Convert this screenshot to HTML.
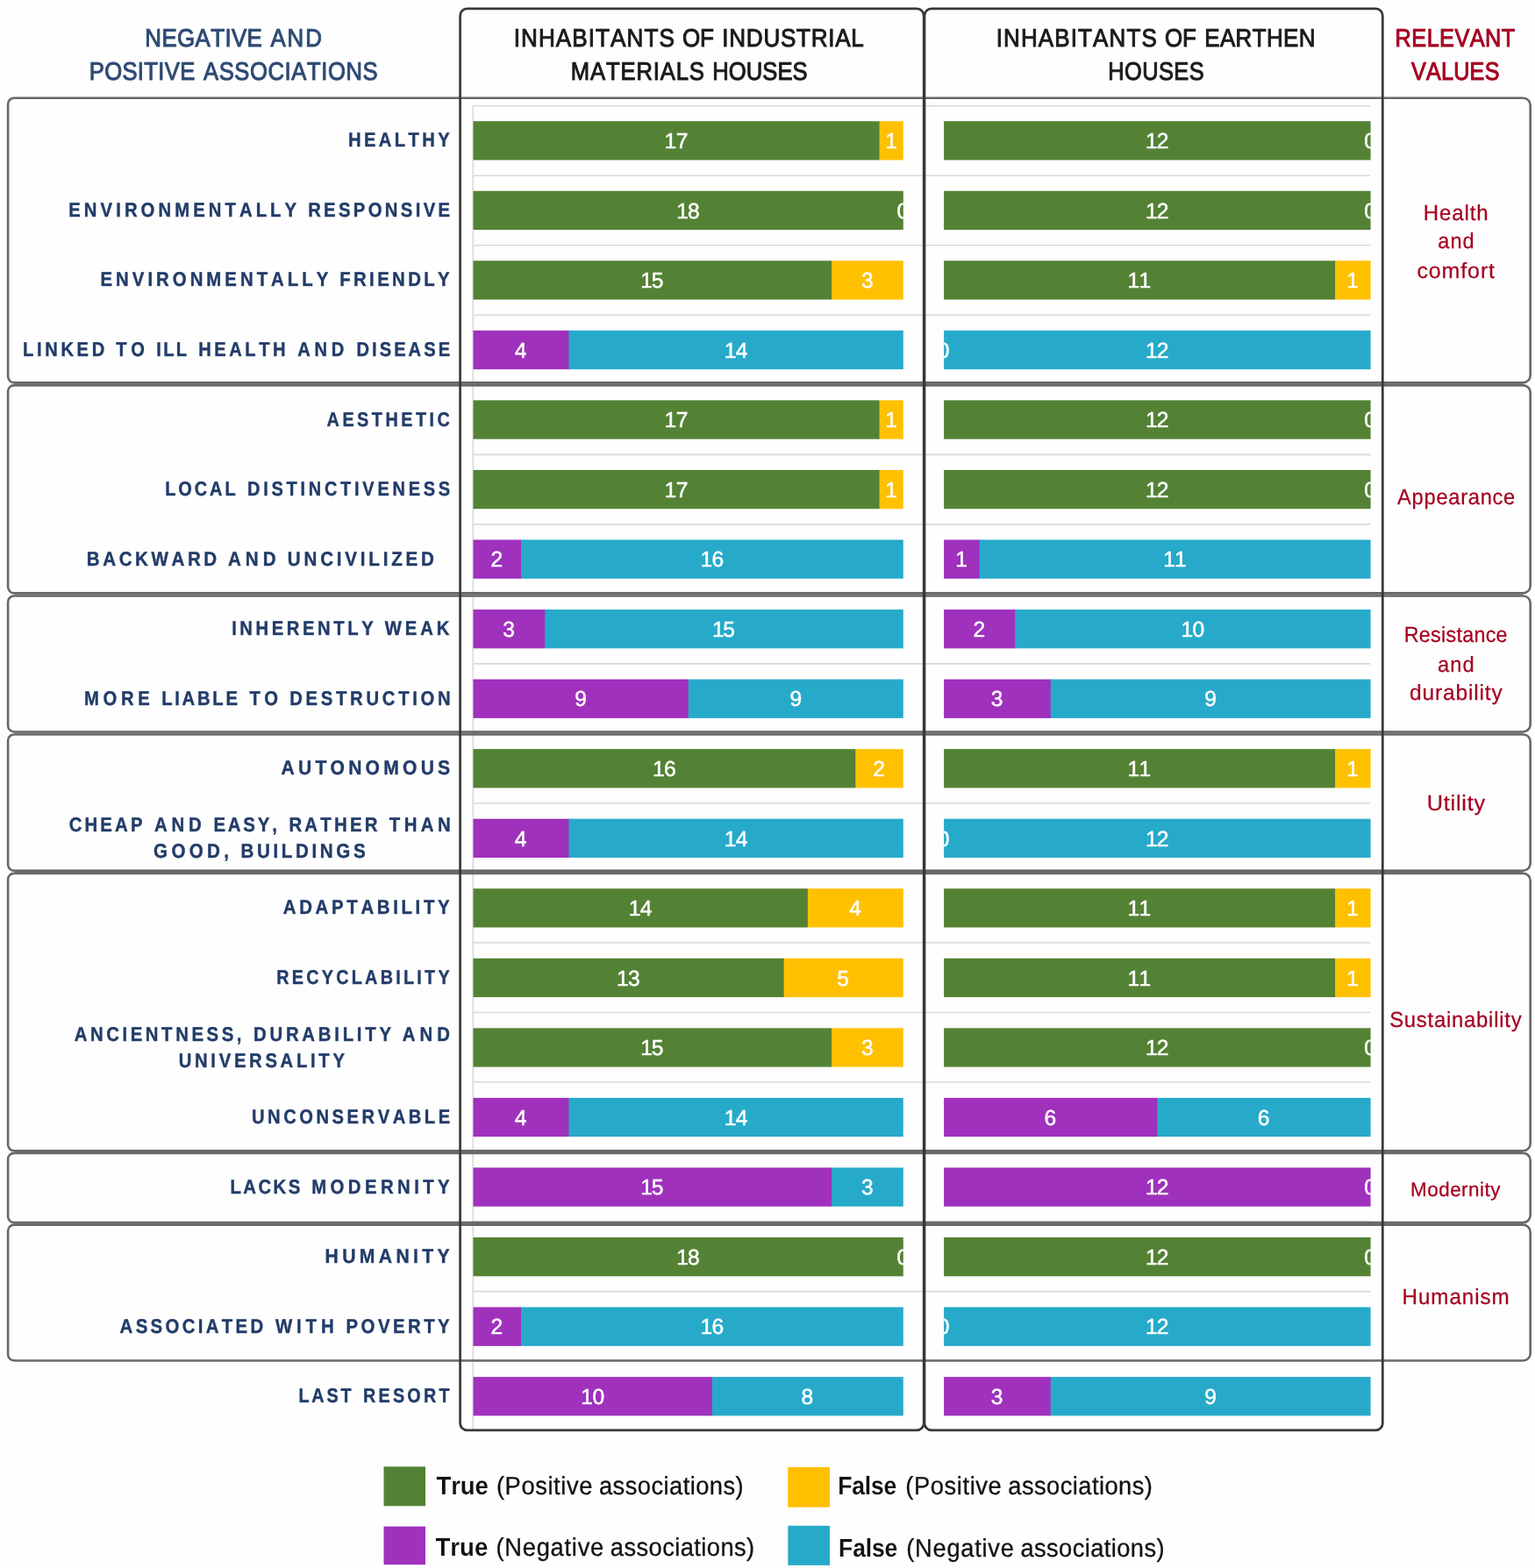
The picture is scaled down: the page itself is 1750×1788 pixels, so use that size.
<!DOCTYPE html>
<html lang="en"><head><meta charset="utf-8"><title>Negative and positive associations</title>
<style>html,body{margin:0;padding:0;background:#fff}body{width:1750px;height:1788px;overflow:hidden}svg{display:block;font-family:"Liberation Sans",sans-serif}text{white-space:pre;font-kerning:none;font-variant-ligatures:none;text-rendering:geometricPrecision}</style></head><body>
<svg width="1750" height="1788" viewBox="0 0 1750 1788">
<rect width="1750" height="1788" fill="#fefefe"/>
<defs><clipPath id="ci"><rect x="539.5" y="100" width="490.3" height="1540"/></clipPath><clipPath id="ce"><rect x="1076.1" y="100" width="486.5" height="1540"/></clipPath></defs>
<g stroke="#D9D9D9" stroke-width="1.6" fill="none">
<path d="M539 120.75H1562.5"/>
<path d="M539 200.27H1562.5"/>
<path d="M539 279.79H1562.5"/>
<path d="M539 359.31H1562.5"/>
<path d="M539 438.83H1562.5"/>
<path d="M539 518.35H1562.5"/>
<path d="M539 597.87H1562.5"/>
<path d="M539 677.39H1562.5"/>
<path d="M539 756.91H1562.5"/>
<path d="M539 836.43H1562.5"/>
<path d="M539 915.95H1562.5"/>
<path d="M539 995.47H1562.5"/>
<path d="M539 1074.99H1562.5"/>
<path d="M539 1154.51H1562.5"/>
<path d="M539 1234.03H1562.5"/>
<path d="M539 1313.55H1562.5"/>
<path d="M539 1393.07H1562.5"/>
<path d="M539 1472.59H1562.5"/>
<path d="M539 1552.11H1562.5"/>
<path d="M539.3 120V1630"/>
</g>
<g stroke="#686868" stroke-width="2.6" fill="none">
<path d="M16.1 111.7H1736.4A8.3 8.3 0 0 1 1744.7 120V428.05A8.3 8.3 0 0 1 1736.4 436.35H16.1A7 7 0 0 1 9.1 429.35V118.7A7 7 0 0 1 16.1 111.7Z"/>
<path d="M16.1 439.35H1736.4A8.3 8.3 0 0 1 1744.7 447.65V668.05A8.3 8.3 0 0 1 1736.4 676.35H16.1A7 7 0 0 1 9.1 669.35V446.35A7 7 0 0 1 16.1 439.35Z"/>
<path d="M16.1 679.45H1736.4A8.3 8.3 0 0 1 1744.7 687.75V826.15A8.3 8.3 0 0 1 1736.4 834.45H16.1A7 7 0 0 1 9.1 827.45V686.45A7 7 0 0 1 16.1 679.45Z"/>
<path d="M16.1 837.45H1736.4A8.3 8.3 0 0 1 1744.7 845.75V984.55A8.3 8.3 0 0 1 1736.4 992.85H16.1A7 7 0 0 1 9.1 985.85V844.45A7 7 0 0 1 16.1 837.45Z"/>
<path d="M16.1 995.85H1736.4A8.3 8.3 0 0 1 1744.7 1004.15V1304A8.3 8.3 0 0 1 1736.4 1312.3H16.1A7 7 0 0 1 9.1 1305.3V1002.85A7 7 0 0 1 16.1 995.85Z"/>
<path d="M16.1 1314.85H1736.4A8.3 8.3 0 0 1 1744.7 1323.15V1385.85A8.3 8.3 0 0 1 1736.4 1394.15H16.1A7 7 0 0 1 9.1 1387.15V1321.85A7 7 0 0 1 16.1 1314.85Z"/>
<path d="M16.1 1396.65H1736.4A8.3 8.3 0 0 1 1744.7 1404.95V1543.2A8.3 8.3 0 0 1 1736.4 1551.5H16.1A7 7 0 0 1 9.1 1544.5V1403.65A7 7 0 0 1 16.1 1396.65Z"/>
<path d="M17 437.85H1736" stroke="#6C6C6C" stroke-width="1.2"/>
<path d="M17 677.9H1736" stroke="#6C6C6C" stroke-width="1.2"/>
<path d="M17 835.95H1736" stroke="#6C6C6C" stroke-width="1.2"/>
<path d="M17 994.35H1736" stroke="#6C6C6C" stroke-width="1.2"/>
<path d="M17 1313.58H1736" stroke="#6C6C6C" stroke-width="1.2"/>
<path d="M17 1395.4H1736" stroke="#6C6C6C" stroke-width="1.2"/>
</g>
<g>
<rect x="1001.76" y="138.2" width="28.04" height="44.3" fill="#FFC000"/>
<rect x="539.5" y="138.2" width="463.06" height="44.3" fill="#548235"/>
<rect x="1076.1" y="138.2" width="486.5" height="44.3" fill="#548235"/>
<rect x="539.5" y="217.75" width="490.3" height="44.3" fill="#548235"/>
<rect x="1076.1" y="217.75" width="486.5" height="44.3" fill="#548235"/>
<rect x="947.28" y="297.3" width="82.52" height="44.3" fill="#FFC000"/>
<rect x="539.5" y="297.3" width="408.58" height="44.3" fill="#548235"/>
<rect x="1521.26" y="297.3" width="41.34" height="44.3" fill="#FFC000"/>
<rect x="1076.1" y="297.3" width="445.96" height="44.3" fill="#548235"/>
<rect x="647.66" y="376.85" width="382.14" height="44.3" fill="#27AACA"/>
<rect x="539.5" y="376.85" width="108.96" height="44.3" fill="#9F31BC"/>
<rect x="1076.1" y="376.85" width="486.5" height="44.3" fill="#27AACA"/>
<rect x="1001.76" y="456.4" width="28.04" height="44.3" fill="#FFC000"/>
<rect x="539.5" y="456.4" width="463.06" height="44.3" fill="#548235"/>
<rect x="1076.1" y="456.4" width="486.5" height="44.3" fill="#548235"/>
<rect x="1001.76" y="535.95" width="28.04" height="44.3" fill="#FFC000"/>
<rect x="539.5" y="535.95" width="463.06" height="44.3" fill="#548235"/>
<rect x="1076.1" y="535.95" width="486.5" height="44.3" fill="#548235"/>
<rect x="593.18" y="615.5" width="436.62" height="44.3" fill="#27AACA"/>
<rect x="539.5" y="615.5" width="54.48" height="44.3" fill="#9F31BC"/>
<rect x="1115.84" y="615.5" width="446.76" height="44.3" fill="#27AACA"/>
<rect x="1076.1" y="615.5" width="40.54" height="44.3" fill="#9F31BC"/>
<rect x="620.42" y="695.05" width="409.38" height="44.3" fill="#27AACA"/>
<rect x="539.5" y="695.05" width="81.72" height="44.3" fill="#9F31BC"/>
<rect x="1156.38" y="695.05" width="406.22" height="44.3" fill="#27AACA"/>
<rect x="1076.1" y="695.05" width="81.08" height="44.3" fill="#9F31BC"/>
<rect x="783.85" y="774.6" width="245.95" height="44.3" fill="#27AACA"/>
<rect x="539.5" y="774.6" width="245.15" height="44.3" fill="#9F31BC"/>
<rect x="1196.92" y="774.6" width="365.68" height="44.3" fill="#27AACA"/>
<rect x="1076.1" y="774.6" width="121.62" height="44.3" fill="#9F31BC"/>
<rect x="974.52" y="854.15" width="55.28" height="44.3" fill="#FFC000"/>
<rect x="539.5" y="854.15" width="435.82" height="44.3" fill="#548235"/>
<rect x="1521.26" y="854.15" width="41.34" height="44.3" fill="#FFC000"/>
<rect x="1076.1" y="854.15" width="445.96" height="44.3" fill="#548235"/>
<rect x="647.66" y="933.7" width="382.14" height="44.3" fill="#27AACA"/>
<rect x="539.5" y="933.7" width="108.96" height="44.3" fill="#9F31BC"/>
<rect x="1076.1" y="933.7" width="486.5" height="44.3" fill="#27AACA"/>
<rect x="920.04" y="1013.25" width="109.76" height="44.3" fill="#FFC000"/>
<rect x="539.5" y="1013.25" width="381.34" height="44.3" fill="#548235"/>
<rect x="1521.26" y="1013.25" width="41.34" height="44.3" fill="#FFC000"/>
<rect x="1076.1" y="1013.25" width="445.96" height="44.3" fill="#548235"/>
<rect x="892.81" y="1092.8" width="136.99" height="44.3" fill="#FFC000"/>
<rect x="539.5" y="1092.8" width="354.11" height="44.3" fill="#548235"/>
<rect x="1521.26" y="1092.8" width="41.34" height="44.3" fill="#FFC000"/>
<rect x="1076.1" y="1092.8" width="445.96" height="44.3" fill="#548235"/>
<rect x="947.28" y="1172.35" width="82.52" height="44.3" fill="#FFC000"/>
<rect x="539.5" y="1172.35" width="408.58" height="44.3" fill="#548235"/>
<rect x="1076.1" y="1172.35" width="486.5" height="44.3" fill="#548235"/>
<rect x="647.66" y="1251.9" width="382.14" height="44.3" fill="#27AACA"/>
<rect x="539.5" y="1251.9" width="108.96" height="44.3" fill="#9F31BC"/>
<rect x="1318.55" y="1251.9" width="244.05" height="44.3" fill="#27AACA"/>
<rect x="1076.1" y="1251.9" width="243.25" height="44.3" fill="#9F31BC"/>
<rect x="947.28" y="1331.45" width="82.52" height="44.3" fill="#27AACA"/>
<rect x="539.5" y="1331.45" width="408.58" height="44.3" fill="#9F31BC"/>
<rect x="1076.1" y="1331.45" width="486.5" height="44.3" fill="#9F31BC"/>
<rect x="539.5" y="1411" width="490.3" height="44.3" fill="#548235"/>
<rect x="1076.1" y="1411" width="486.5" height="44.3" fill="#548235"/>
<rect x="593.18" y="1490.55" width="436.62" height="44.3" fill="#27AACA"/>
<rect x="539.5" y="1490.55" width="54.48" height="44.3" fill="#9F31BC"/>
<rect x="1076.1" y="1490.55" width="486.5" height="44.3" fill="#27AACA"/>
<rect x="811.09" y="1570.1" width="218.71" height="44.3" fill="#27AACA"/>
<rect x="539.5" y="1570.1" width="272.39" height="44.3" fill="#9F31BC"/>
<rect x="1196.92" y="1570.1" width="365.68" height="44.3" fill="#27AACA"/>
<rect x="1076.1" y="1570.1" width="121.62" height="44.3" fill="#9F31BC"/>
</g>
<g stroke="#383838" stroke-width="2.7" fill="none">
<rect x="524.6" y="9.9" width="528.6" height="1620.9" rx="7.8" ry="7.8"/>
<rect x="1054.0" y="9.9" width="522.3" height="1620.9" rx="7.8" ry="7.8"/>
</g>
<g clip-path="url(#ci)">
<text transform="translate(757.57,169) scale(1.0000,1)" font-size="24.64" letter-spacing="-0.446" fill="#fff" stroke="#fff" stroke-width="0.5">17</text>
<text transform="translate(1009.16,169) scale(1.0000,1)" font-size="24.64" fill="#fff" stroke="#fff" stroke-width="0.5">1</text>
</g>
<g clip-path="url(#ce)">
<text transform="translate(1305.89,169) scale(1.0000,1)" font-size="24.64" letter-spacing="-0.725" fill="#fff" stroke="#fff" stroke-width="0.5">12</text>
<text transform="translate(1555.35,169) scale(1.0000,1)" font-size="24.64" fill="#fff" stroke="#fff" stroke-width="0.5">0</text>
</g>
<g clip-path="url(#ci)">
<text transform="translate(771.19,248.55) scale(1.0000,1)" font-size="24.64" letter-spacing="-0.827" fill="#fff" stroke="#fff" stroke-width="0.5">18</text>
<text transform="translate(1022.55,248.55) scale(1.0000,1)" font-size="24.64" fill="#fff" stroke="#fff" stroke-width="0.5">0</text>
</g>
<g clip-path="url(#ce)">
<text transform="translate(1305.89,248.55) scale(1.0000,1)" font-size="24.64" letter-spacing="-0.725" fill="#fff" stroke="#fff" stroke-width="0.5">12</text>
<text transform="translate(1555.35,248.55) scale(1.0000,1)" font-size="24.64" fill="#fff" stroke="#fff" stroke-width="0.5">0</text>
</g>
<g clip-path="url(#ci)">
<text transform="translate(730.33,328.1) scale(1.0000,1)" font-size="24.64" letter-spacing="-1.381" fill="#fff" stroke="#fff" stroke-width="0.5">15</text>
<text transform="translate(981.88,328.1) scale(1.0000,1)" font-size="24.64" fill="#fff" stroke="#fff" stroke-width="0.5">3</text>
</g>
<g clip-path="url(#ce)">
<text transform="translate(1285.62,328.1) scale(1.0000,1)" font-size="24.64" letter-spacing="-0.827" fill="#fff" stroke="#fff" stroke-width="0.5">11</text>
<text transform="translate(1535.31,328.1) scale(1.0000,1)" font-size="24.64" fill="#fff" stroke="#fff" stroke-width="0.5">1</text>
</g>
<g clip-path="url(#ci)">
<text transform="translate(586.81,407.65) scale(1.0000,1)" font-size="24.64" fill="#fff" stroke="#fff" stroke-width="0.5">4</text>
<text transform="translate(825.67,407.65) scale(1.0000,1)" font-size="24.64" letter-spacing="-0.538" fill="#fff" stroke="#fff" stroke-width="0.5">14</text>
</g>
<g clip-path="url(#ce)">
<text transform="translate(1068.85,407.65) scale(1.0000,1)" font-size="24.64" fill="#fff" stroke="#fff" stroke-width="0.5">0</text>
<text transform="translate(1305.89,407.65) scale(1.0000,1)" font-size="24.64" letter-spacing="-0.725" fill="#fff" stroke="#fff" stroke-width="0.5">12</text>
</g>
<g clip-path="url(#ci)">
<text transform="translate(757.57,487.2) scale(1.0000,1)" font-size="24.64" letter-spacing="-0.446" fill="#fff" stroke="#fff" stroke-width="0.5">17</text>
<text transform="translate(1009.16,487.2) scale(1.0000,1)" font-size="24.64" fill="#fff" stroke="#fff" stroke-width="0.5">1</text>
</g>
<g clip-path="url(#ce)">
<text transform="translate(1305.89,487.2) scale(1.0000,1)" font-size="24.64" letter-spacing="-0.725" fill="#fff" stroke="#fff" stroke-width="0.5">12</text>
<text transform="translate(1555.35,487.2) scale(1.0000,1)" font-size="24.64" fill="#fff" stroke="#fff" stroke-width="0.5">0</text>
</g>
<g clip-path="url(#ci)">
<text transform="translate(757.57,566.75) scale(1.0000,1)" font-size="24.64" letter-spacing="-0.446" fill="#fff" stroke="#fff" stroke-width="0.5">17</text>
<text transform="translate(1009.16,566.75) scale(1.0000,1)" font-size="24.64" fill="#fff" stroke="#fff" stroke-width="0.5">1</text>
</g>
<g clip-path="url(#ce)">
<text transform="translate(1305.89,566.75) scale(1.0000,1)" font-size="24.64" letter-spacing="-0.725" fill="#fff" stroke="#fff" stroke-width="0.5">12</text>
<text transform="translate(1555.35,566.75) scale(1.0000,1)" font-size="24.64" fill="#fff" stroke="#fff" stroke-width="0.5">0</text>
</g>
<g clip-path="url(#ci)">
<text transform="translate(559.52,646.3) scale(1.0000,1)" font-size="24.64" fill="#fff" stroke="#fff" stroke-width="0.5">2</text>
<text transform="translate(798.43,646.3) scale(1.0000,1)" font-size="24.64" letter-spacing="-0.669" fill="#fff" stroke="#fff" stroke-width="0.5">16</text>
</g>
<g clip-path="url(#ce)">
<text transform="translate(1089.35,646.3) scale(1.0000,1)" font-size="24.64" fill="#fff" stroke="#fff" stroke-width="0.5">1</text>
<text transform="translate(1326.16,646.3) scale(1.0000,1)" font-size="24.64" letter-spacing="-0.827" fill="#fff" stroke="#fff" stroke-width="0.5">11</text>
</g>
<g clip-path="url(#ci)">
<text transform="translate(573.29,725.85) scale(1.0000,1)" font-size="24.64" fill="#fff" stroke="#fff" stroke-width="0.5">3</text>
<text transform="translate(812.05,725.85) scale(1.0000,1)" font-size="24.64" letter-spacing="-1.381" fill="#fff" stroke="#fff" stroke-width="0.5">15</text>
</g>
<g clip-path="url(#ce)">
<text transform="translate(1109.42,725.85) scale(1.0000,1)" font-size="24.64" fill="#fff" stroke="#fff" stroke-width="0.5">2</text>
<text transform="translate(1346.43,725.85) scale(1.0000,1)" font-size="24.64" letter-spacing="-0.550" fill="#fff" stroke="#fff" stroke-width="0.5">10</text>
</g>
<g clip-path="url(#ci)">
<text transform="translate(655.23,805.4) scale(1.0000,1)" font-size="24.64" fill="#fff" stroke="#fff" stroke-width="0.5">9</text>
<text transform="translate(900.38,805.4) scale(1.0000,1)" font-size="24.64" fill="#fff" stroke="#fff" stroke-width="0.5">9</text>
</g>
<g clip-path="url(#ce)">
<text transform="translate(1129.85,805.4) scale(1.0000,1)" font-size="24.64" fill="#fff" stroke="#fff" stroke-width="0.5">3</text>
<text transform="translate(1373.32,805.4) scale(1.0000,1)" font-size="24.64" fill="#fff" stroke="#fff" stroke-width="0.5">9</text>
</g>
<g clip-path="url(#ci)">
<text transform="translate(743.95,884.95) scale(1.0000,1)" font-size="24.64" letter-spacing="-0.669" fill="#fff" stroke="#fff" stroke-width="0.5">16</text>
<text transform="translate(995.34,884.95) scale(1.0000,1)" font-size="24.64" fill="#fff" stroke="#fff" stroke-width="0.5">2</text>
</g>
<g clip-path="url(#ce)">
<text transform="translate(1285.62,884.95) scale(1.0000,1)" font-size="24.64" letter-spacing="-0.827" fill="#fff" stroke="#fff" stroke-width="0.5">11</text>
<text transform="translate(1535.31,884.95) scale(1.0000,1)" font-size="24.64" fill="#fff" stroke="#fff" stroke-width="0.5">1</text>
</g>
<g clip-path="url(#ci)">
<text transform="translate(586.81,964.5) scale(1.0000,1)" font-size="24.64" fill="#fff" stroke="#fff" stroke-width="0.5">4</text>
<text transform="translate(825.67,964.5) scale(1.0000,1)" font-size="24.64" letter-spacing="-0.538" fill="#fff" stroke="#fff" stroke-width="0.5">14</text>
</g>
<g clip-path="url(#ce)">
<text transform="translate(1068.85,964.5) scale(1.0000,1)" font-size="24.64" fill="#fff" stroke="#fff" stroke-width="0.5">0</text>
<text transform="translate(1305.89,964.5) scale(1.0000,1)" font-size="24.64" letter-spacing="-0.725" fill="#fff" stroke="#fff" stroke-width="0.5">12</text>
</g>
<g clip-path="url(#ci)">
<text transform="translate(716.71,1044.05) scale(1.0000,1)" font-size="24.64" letter-spacing="-0.538" fill="#fff" stroke="#fff" stroke-width="0.5">14</text>
<text transform="translate(968.16,1044.05) scale(1.0000,1)" font-size="24.64" fill="#fff" stroke="#fff" stroke-width="0.5">4</text>
</g>
<g clip-path="url(#ce)">
<text transform="translate(1285.62,1044.05) scale(1.0000,1)" font-size="24.64" letter-spacing="-0.827" fill="#fff" stroke="#fff" stroke-width="0.5">11</text>
<text transform="translate(1535.31,1044.05) scale(1.0000,1)" font-size="24.64" fill="#fff" stroke="#fff" stroke-width="0.5">1</text>
</g>
<g clip-path="url(#ci)">
<text transform="translate(703.09,1123.6) scale(1.0000,1)" font-size="24.64" letter-spacing="-0.762" fill="#fff" stroke="#fff" stroke-width="0.5">13</text>
<text transform="translate(954.29,1123.6) scale(1.0000,1)" font-size="24.64" fill="#fff" stroke="#fff" stroke-width="0.5">5</text>
</g>
<g clip-path="url(#ce)">
<text transform="translate(1285.62,1123.6) scale(1.0000,1)" font-size="24.64" letter-spacing="-0.827" fill="#fff" stroke="#fff" stroke-width="0.5">11</text>
<text transform="translate(1535.31,1123.6) scale(1.0000,1)" font-size="24.64" fill="#fff" stroke="#fff" stroke-width="0.5">1</text>
</g>
<g clip-path="url(#ci)">
<text transform="translate(730.33,1203.15) scale(1.0000,1)" font-size="24.64" letter-spacing="-1.381" fill="#fff" stroke="#fff" stroke-width="0.5">15</text>
<text transform="translate(981.88,1203.15) scale(1.0000,1)" font-size="24.64" fill="#fff" stroke="#fff" stroke-width="0.5">3</text>
</g>
<g clip-path="url(#ce)">
<text transform="translate(1305.89,1203.15) scale(1.0000,1)" font-size="24.64" letter-spacing="-0.725" fill="#fff" stroke="#fff" stroke-width="0.5">12</text>
<text transform="translate(1555.35,1203.15) scale(1.0000,1)" font-size="24.64" fill="#fff" stroke="#fff" stroke-width="0.5">0</text>
</g>
<g clip-path="url(#ci)">
<text transform="translate(586.81,1282.7) scale(1.0000,1)" font-size="24.64" fill="#fff" stroke="#fff" stroke-width="0.5">4</text>
<text transform="translate(825.67,1282.7) scale(1.0000,1)" font-size="24.64" letter-spacing="-0.538" fill="#fff" stroke="#fff" stroke-width="0.5">14</text>
</g>
<g clip-path="url(#ce)">
<text transform="translate(1190.53,1282.7) scale(1.0000,1)" font-size="24.64" fill="#fff" stroke="#fff" stroke-width="0.5">6</text>
<text transform="translate(1433.78,1282.7) scale(1.0000,1)" font-size="24.64" fill="#fff" stroke="#fff" stroke-width="0.5">6</text>
</g>
<g clip-path="url(#ci)">
<text transform="translate(730.33,1362.25) scale(1.0000,1)" font-size="24.64" letter-spacing="-1.381" fill="#fff" stroke="#fff" stroke-width="0.5">15</text>
<text transform="translate(981.88,1362.25) scale(1.0000,1)" font-size="24.64" fill="#fff" stroke="#fff" stroke-width="0.5">3</text>
</g>
<g clip-path="url(#ce)">
<text transform="translate(1305.89,1362.25) scale(1.0000,1)" font-size="24.64" letter-spacing="-0.725" fill="#fff" stroke="#fff" stroke-width="0.5">12</text>
<text transform="translate(1555.35,1362.25) scale(1.0000,1)" font-size="24.64" fill="#fff" stroke="#fff" stroke-width="0.5">0</text>
</g>
<g clip-path="url(#ci)">
<text transform="translate(771.19,1441.8) scale(1.0000,1)" font-size="24.64" letter-spacing="-0.827" fill="#fff" stroke="#fff" stroke-width="0.5">18</text>
<text transform="translate(1022.55,1441.8) scale(1.0000,1)" font-size="24.64" fill="#fff" stroke="#fff" stroke-width="0.5">0</text>
</g>
<g clip-path="url(#ce)">
<text transform="translate(1305.89,1441.8) scale(1.0000,1)" font-size="24.64" letter-spacing="-0.725" fill="#fff" stroke="#fff" stroke-width="0.5">12</text>
<text transform="translate(1555.35,1441.8) scale(1.0000,1)" font-size="24.64" fill="#fff" stroke="#fff" stroke-width="0.5">0</text>
</g>
<g clip-path="url(#ci)">
<text transform="translate(559.52,1521.35) scale(1.0000,1)" font-size="24.64" fill="#fff" stroke="#fff" stroke-width="0.5">2</text>
<text transform="translate(798.43,1521.35) scale(1.0000,1)" font-size="24.64" letter-spacing="-0.669" fill="#fff" stroke="#fff" stroke-width="0.5">16</text>
</g>
<g clip-path="url(#ce)">
<text transform="translate(1068.85,1521.35) scale(1.0000,1)" font-size="24.64" fill="#fff" stroke="#fff" stroke-width="0.5">0</text>
<text transform="translate(1305.89,1521.35) scale(1.0000,1)" font-size="24.64" letter-spacing="-0.725" fill="#fff" stroke="#fff" stroke-width="0.5">12</text>
</g>
<g clip-path="url(#ci)">
<text transform="translate(662.23,1600.9) scale(1.0000,1)" font-size="24.64" letter-spacing="-0.550" fill="#fff" stroke="#fff" stroke-width="0.5">10</text>
<text transform="translate(913.59,1600.9) scale(1.0000,1)" font-size="24.64" fill="#fff" stroke="#fff" stroke-width="0.5">8</text>
</g>
<g clip-path="url(#ce)">
<text transform="translate(1129.85,1600.9) scale(1.0000,1)" font-size="24.64" fill="#fff" stroke="#fff" stroke-width="0.5">3</text>
<text transform="translate(1373.32,1600.9) scale(1.0000,1)" font-size="24.64" fill="#fff" stroke="#fff" stroke-width="0.5">9</text>
</g>
<text transform="translate(396.9,167.35) scale(0.8866,1)" font-size="22.75" font-weight="700" letter-spacing="3.854" fill="#223C69" stroke="#223C69" stroke-width="0.4">HEALTHY</text>
<text transform="translate(0,246.9) scale(0.8923,1)" font-size="22.75" font-weight="700" fill="#223C69" stroke="#223C69" stroke-width="0.4"><tspan x="87.71" letter-spacing="4.552">ENVIRONMENTALLY </tspan><tspan x="393.52" letter-spacing="3.733">RESPONSIVE</tspan></text>
<text transform="translate(0,326.45) scale(0.8952,1)" font-size="22.75" font-weight="700" fill="#223C69" stroke="#223C69" stroke-width="0.4"><tspan x="127.89" letter-spacing="4.483">ENVIRONMENTALLY </tspan><tspan x="432.55" letter-spacing="3.768">FRIENDLY</tspan></text>
<text transform="translate(0,406) scale(0.8836,1)" font-size="22.75" font-weight="700" fill="#223C69" stroke="#223C69" stroke-width="0.4"><tspan x="29.44" letter-spacing="4.148">LINKED </tspan><tspan x="149.79" letter-spacing="5.287">TO </tspan><tspan x="201.8" letter-spacing="2.657">ILL </tspan><tspan x="256.06" letter-spacing="4.011">HEALTH </tspan><tspan x="384.04" letter-spacing="5.373">AND </tspan><tspan x="460" letter-spacing="3.465">DISEASE</tspan></text>
<text transform="translate(372.57,485.55) scale(0.8706,1)" font-size="22.75" font-weight="700" letter-spacing="4.029" fill="#223C69" stroke="#223C69" stroke-width="0.4">AESTHETIC</text>
<text transform="translate(0,565.1) scale(0.8780,1)" font-size="22.75" font-weight="700" fill="#223C69" stroke="#223C69" stroke-width="0.4"><tspan x="214.33" letter-spacing="3.324">LOCAL </tspan><tspan x="321.15" letter-spacing="4.269">DISTINCTIVENESS</tspan></text>
<text transform="translate(0,644.65) scale(0.9041,1)" font-size="22.75" font-weight="700" fill="#223C69" stroke="#223C69" stroke-width="0.4"><tspan x="109.31" letter-spacing="3.943">BACKWARD </tspan><tspan x="287.46" letter-spacing="5.575">AND </tspan><tspan x="362.63" letter-spacing="4.192">UNCIVILIZED</tspan></text>
<text transform="translate(0,724.2) scale(0.8895,1)" font-size="22.75" font-weight="700" fill="#223C69" stroke="#223C69" stroke-width="0.4"><tspan x="296.96" letter-spacing="4.032">INHERENTLY </tspan><tspan x="493.25" letter-spacing="4.463">WEAK</tspan></text>
<text transform="translate(0,803.75) scale(0.8897,1)" font-size="22.75" font-weight="700" fill="#223C69" stroke="#223C69" stroke-width="0.4"><tspan x="107.85" letter-spacing="5.253">MORE </tspan><tspan x="207.01" letter-spacing="3.063">LIABLE </tspan><tspan x="319.67" letter-spacing="5.033">TO </tspan><tspan x="371.18" letter-spacing="4.186">DESTRUCTION</tspan></text>
<text transform="translate(320.52,883.3) scale(0.9266,1)" font-size="22.75" font-weight="700" letter-spacing="4.563" fill="#223C69" stroke="#223C69" stroke-width="0.4">AUTONOMOUS</text>
<text transform="translate(0,947.85) scale(0.8963,1)" font-size="22.75" font-weight="700" fill="#223C69" stroke="#223C69" stroke-width="0.4"><tspan x="87.76" letter-spacing="3.476">CHEAP </tspan><tspan x="196.33" letter-spacing="5.283">AND </tspan><tspan x="271.55" letter-spacing="3.147">EASY, </tspan><tspan x="367.5" letter-spacing="3.612">RATHER </tspan><tspan x="495.17" letter-spacing="4.912">THAN</tspan></text>
<text transform="translate(0,978.05) scale(0.9046,1)" font-size="22.75" font-weight="700" fill="#223C69" stroke="#223C69" stroke-width="0.4"><tspan x="193.55" letter-spacing="4.756">GOOD, </tspan><tspan x="303.32" letter-spacing="4.021">BUILDINGS</tspan></text>
<text transform="translate(322.83,1042.4) scale(0.8970,1)" font-size="22.75" font-weight="700" letter-spacing="4.073" fill="#223C69" stroke="#223C69" stroke-width="0.4">ADAPTABILITY</text>
<text transform="translate(315.13,1121.95) scale(0.8687,1)" font-size="22.75" font-weight="700" letter-spacing="3.781" fill="#223C69" stroke="#223C69" stroke-width="0.4">RECYCLABILITY</text>
<text transform="translate(0,1186.5) scale(0.8950,1)" font-size="22.75" font-weight="700" fill="#223C69" stroke="#223C69" stroke-width="0.4"><tspan x="94.57" letter-spacing="3.991">ANCIENTNESS, </tspan><tspan x="322.92" letter-spacing="4.183">DURABILITY </tspan><tspan x="512.6" letter-spacing="5.584">AND</tspan></text>
<text transform="translate(203.73,1216.7) scale(0.8887,1)" font-size="22.75" font-weight="700" letter-spacing="4.179" fill="#223C69" stroke="#223C69" stroke-width="0.4">UNIVERSALITY</text>
<text transform="translate(287.02,1281.05) scale(0.8855,1)" font-size="22.75" font-weight="700" letter-spacing="4.003" fill="#223C69" stroke="#223C69" stroke-width="0.4">UNCONSERVABLE</text>
<text transform="translate(0,1360.6) scale(0.8944,1)" font-size="22.75" font-weight="700" fill="#223C69" stroke="#223C69" stroke-width="0.4"><tspan x="293.48" letter-spacing="2.712">LACKS </tspan><tspan x="397.2" letter-spacing="4.932">MODERNITY</tspan></text>
<text transform="translate(370.53,1440.15) scale(0.9310,1)" font-size="22.75" font-weight="700" letter-spacing="4.657" fill="#223C69" stroke="#223C69" stroke-width="0.4">HUMANITY</text>
<text transform="translate(0,1519.7) scale(0.8952,1)" font-size="22.75" font-weight="700" fill="#223C69" stroke="#223C69" stroke-width="0.4"><tspan x="152.62" letter-spacing="3.735">ASSOCIATED </tspan><tspan x="350.69" letter-spacing="5.459">WITH </tspan><tspan x="440.75" letter-spacing="3.863">POVERTY</tspan></text>
<text transform="translate(0,1599.25) scale(0.8674,1)" font-size="22.75" font-weight="700" fill="#223C69" stroke="#223C69" stroke-width="0.4"><tspan x="392.51" letter-spacing="3.273">LAST </tspan><tspan x="477.34" letter-spacing="3.747">RESORT</tspan></text>
<text transform="translate(0,52.6) scale(0.9033,1)" font-size="28.67" fill="#2F4A74" stroke="#2F4A74" stroke-width="1"><tspan x="183.08" letter-spacing="0.412">NEGATIVE </tspan><tspan x="341.42" letter-spacing="2.125">AND</tspan></text>
<text transform="translate(0,90.9) scale(0.8940,1)" font-size="28.67" fill="#2F4A74" stroke="#2F4A74" stroke-width="1"><tspan x="113.75" letter-spacing="0.399">POSITIVE </tspan><tspan x="259.52" letter-spacing="0.650">ASSOCIATIONS</tspan></text>
<text transform="translate(0,52.7) scale(0.9108,1)" font-size="28.67" fill="#1a1a1a" stroke="#1a1a1a" stroke-width="1"><tspan x="643.15" letter-spacing="1.148">INHABITANTS </tspan><tspan x="854.2" letter-spacing="-0.372">OF </tspan><tspan x="903.97" letter-spacing="0.778">INDUSTRIAL</tspan></text>
<text transform="translate(0,91.4) scale(0.8943,1)" font-size="28.67" fill="#1a1a1a" stroke="#1a1a1a" stroke-width="1"><tspan x="727.75" letter-spacing="0.956">MATERIALS </tspan><tspan x="908.28" letter-spacing="0.038">HOUSES</tspan></text>
<text transform="translate(0,52.7) scale(0.9064,1)" font-size="28.67" fill="#1a1a1a" stroke="#1a1a1a" stroke-width="1"><tspan x="1252.91" letter-spacing="1.261">INHABITANTS </tspan><tspan x="1465.17" letter-spacing="-0.159">OF </tspan><tspan x="1515.14" letter-spacing="0.364">EARTHEN</tspan></text>
<text transform="translate(1263.21,90.9) scale(0.8868,1)" font-size="28.67" letter-spacing="0.470" fill="#1a1a1a" stroke="#1a1a1a" stroke-width="1">HOUSES</text>
<text transform="translate(1590.62,52.7) scale(0.8852,1)" font-size="28.67" letter-spacing="0.434" fill="#A50021" stroke="#A50021" stroke-width="1">RELEVANT</text>
<text transform="translate(1608.99,91) scale(0.8783,1)" font-size="28.67" letter-spacing="0.251" fill="#A50021" stroke="#A50021" stroke-width="1">VALUES</text>
<text transform="translate(1622.75,250.97) scale(0.9717,1)" font-size="24.74" letter-spacing="0.924" fill="#A50021" stroke="#A50021" stroke-width="0.25">Health</text>
<text transform="translate(1639.32,283.38) scale(0.9521,1)" font-size="24.74" letter-spacing="1.033" fill="#A50021" stroke="#A50021" stroke-width="0.25">and</text>
<text transform="translate(1615.46,316.98) scale(1.0104,1)" font-size="24.74" letter-spacing="0.867" fill="#A50021" stroke="#A50021" stroke-width="0.25">comfort</text>
<text transform="translate(1593.08,575.27) scale(0.9584,1)" font-size="24.74" letter-spacing="0.739" fill="#A50021" stroke="#A50021" stroke-width="0.25">Appearance</text>
<text transform="translate(1600.71,732.48) scale(0.9432,1)" font-size="24.74" letter-spacing="0.290" fill="#A50021" stroke="#A50021" stroke-width="0.25">Resistance</text>
<text transform="translate(1639.02,765.58) scale(0.9570,1)" font-size="24.74" letter-spacing="1.138" fill="#A50021" stroke="#A50021" stroke-width="0.25">and</text>
<text transform="translate(1606.99,798.48) scale(0.9917,1)" font-size="24.74" letter-spacing="0.845" fill="#A50021" stroke="#A50021" stroke-width="0.25">durability</text>
<text transform="translate(1626.77,924.17) scale(1.0243,1)" font-size="24.74" letter-spacing="0.733" fill="#A50021" stroke="#A50021" stroke-width="0.25">Utility</text>
<text transform="translate(1584.14,1170.97) scale(0.9665,1)" font-size="24.74" letter-spacing="0.764" fill="#A50021" stroke="#A50021" stroke-width="0.25">Sustainability</text>
<text transform="translate(1608.08,1364.08) scale(0.9873,1)" font-size="22.72" letter-spacing="0.486" fill="#A50021" stroke="#A50021" stroke-width="0.25">Modernity</text>
<text transform="translate(1598.54,1486.58) scale(0.9777,1)" font-size="24.74" letter-spacing="0.968" fill="#A50021" stroke="#A50021" stroke-width="0.25">Humanism</text>
<rect x="437.5" y="1672.4" width="47.5" height="44.9" fill="#548235"/>
<rect x="898.2" y="1673" width="47.8" height="45.7" fill="#FFC000"/>
<rect x="437.5" y="1740.6" width="47.5" height="43.6" fill="#9F31BC"/>
<rect x="898.3" y="1739.8" width="47.7" height="45.1" fill="#27AACA"/>
<text transform="translate(497.44,1704.45) scale(0.9475,1)" font-size="29.07" font-weight="700" letter-spacing="-0.085" fill="#111" stroke="#fefefe" stroke-width="0.1">True</text>
<text transform="translate(0,1704.25) scale(0.9466,1)" font-size="28.88" fill="#111" stroke="#111" stroke-width="0.3"><tspan x="597.87" letter-spacing="0.616">(Positive </tspan><tspan x="721.5" letter-spacing="0.458">associations)</tspan></text>
<text transform="translate(955.18,1704.25) scale(0.9109,1)" font-size="29.07" font-weight="700" letter-spacing="-0.150" fill="#111" stroke="#fefefe" stroke-width="0.1">False</text>
<text transform="translate(0,1704.05) scale(0.9463,1)" font-size="28.88" fill="#111" stroke="#111" stroke-width="0.3"><tspan x="1090.96" letter-spacing="0.611">(Positive </tspan><tspan x="1214.54" letter-spacing="0.453">associations)</tspan></text>
<text transform="translate(496.54,1773.85) scale(0.9499,1)" font-size="29.07" font-weight="700" letter-spacing="-0.032" fill="#111" stroke="#fefefe" stroke-width="0.1">True</text>
<text transform="translate(0,1773.65) scale(0.9464,1)" font-size="28.88" fill="#111" stroke="#111" stroke-width="0.3"><tspan x="597.49" letter-spacing="0.773">(Negative </tspan><tspan x="735.23" letter-spacing="0.434">associations)</tspan></text>
<text transform="translate(956.08,1775.35) scale(0.9116,1)" font-size="29.07" font-weight="700" letter-spacing="-0.136" fill="#111" stroke="#fefefe" stroke-width="0.1">False</text>
<text transform="translate(0,1775.15) scale(0.9457,1)" font-size="28.88" fill="#111" stroke="#111" stroke-width="0.3"><tspan x="1092.55" letter-spacing="0.762">(Negative </tspan><tspan x="1230.19" letter-spacing="0.424">associations)</tspan></text>
</svg></body></html>
